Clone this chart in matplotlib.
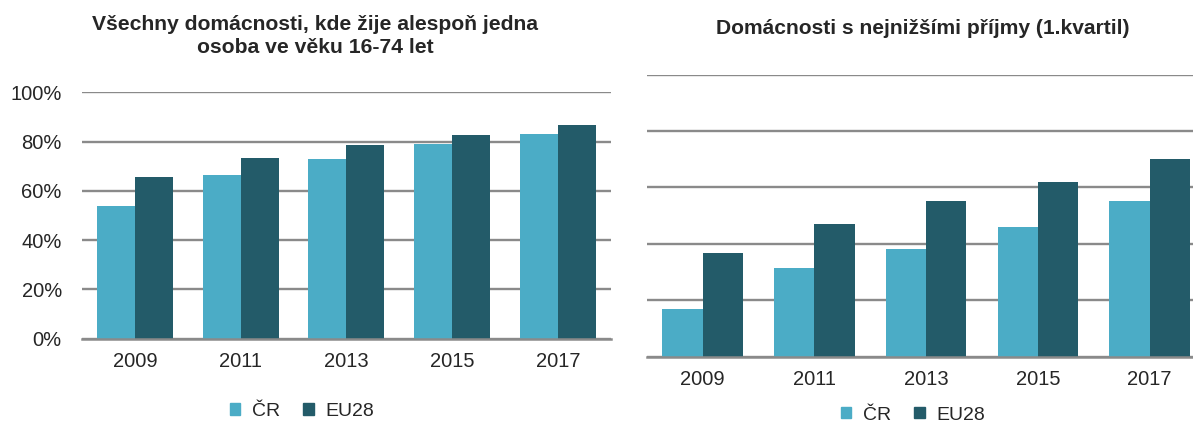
import numpy as np
import matplotlib
matplotlib.use("Agg")
import matplotlib.pyplot as plt
from matplotlib.patches import Patch

plt.rcParams["font.family"] = ["Liberation Sans", "DejaVu Sans"]

years = ["2009", "2011", "2013", "2015", "2017"]
series_names = ["ČR", "EU28"]

# all households with at least one person aged 16-74 (%)
all_cr = [54, 66.5, 72.8, 79.2, 83.1]
all_eu = [65.8, 73.2, 78.7, 82.7, 86.8]

# lowest income households, 1st quartile (%)
low_cr = [17, 31.3, 38.2, 46.1, 55.2]
low_eu = [36.8, 47.1, 55.3, 61.8, 70.1]

titles = ["Všechny domácnosti, kde žije alespoň jedna\nosoba ve věku 16-74 let",
          "Domácnosti s nejnižšími příjmy (1.kvartil)"]

c_cr = "#4bacc6"
c_eu = "#235b69"
grid_c = "#8a8a8a"
text_c = "#262626"

W, H = 1193, 423
fig = plt.figure(figsize=(W / 100, H / 100), dpi=100)

# axes rectangles from pixel positions in the reference
ax1 = fig.add_axes([82 / W, (H - 338.5) / H, 528.7 / W, 246.2 / H])
ax2 = fig.add_axes([646.7 / W, (H - 356.7) / H, 558.8 / W, 282 / H])

x = np.arange(len(years))
bw = 0.36

for ax, cr, eu in [(ax1, all_cr, all_eu), (ax2, low_cr, low_eu)]:
    ax.bar(x - bw / 2, cr, bw, color=c_cr, zorder=2)
    ax.bar(x + bw / 2, eu, bw, color=c_eu, zorder=2)
    ax.set_xlim(-0.5, len(years) - 0.5)
    ax.set_ylim(0, 100)
    ax.set_yticks(np.arange(0, 101, 20))
    ax.yaxis.grid(True, color=grid_c, linewidth=1.7, zorder=1)
    ax.set_axisbelow(True)
    for s in ["top", "right", "left"]:
        ax.spines[s].set_visible(False)
    ax.spines["bottom"].set_color(grid_c)
    ax.spines["bottom"].set_linewidth(1.8)
    ax.spines["bottom"].set_zorder(3)
    ax.set_xticks(x)
    ax.set_xticklabels(years)
    ax.tick_params(axis="x", length=0, pad=9.5, labelsize=14.5, labelcolor=text_c)
    ax.tick_params(axis="y", length=0, pad=14.5, labelsize=14.5, labelcolor=text_c)

ax1.set_yticklabels([f"{v}%" for v in range(0, 101, 20)])
ax2.set_yticklabels([])

fig.text(315 / W, 1 - 36 / H, titles[0], ha="center", va="center",
         fontsize=15.2, fontweight="bold", color=text_c, linespacing=1.32)
fig.text(923 / W, 1 - 28.3 / H, titles[1], ha="center", va="center",
         fontsize=15.1, fontweight="bold", color=text_c)

handles = [Patch(color=c_cr, label=series_names[0]),
           Patch(color=c_eu, label=series_names[1])]
for cx, cy in [(302 / W, 1 - 411.7 / H), (913 / W, 1 - 415 / H)]:
    leg = fig.legend(handles=handles, loc="center", bbox_to_anchor=(cx, cy),
                     ncol=2, frameon=False, fontsize=14, handlelength=0.55,
                     handleheight=0.55, handletextpad=0.6, columnspacing=1.2,
                     borderpad=0)
    for t in leg.get_texts():
        t.set_color(text_c)

fig.savefig("out.png", dpi=100, facecolor="white")
